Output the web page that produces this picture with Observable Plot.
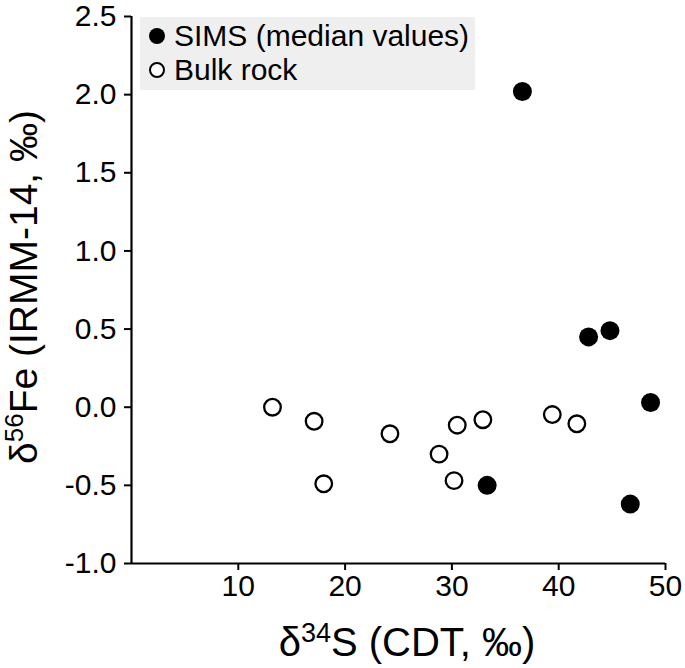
<!DOCTYPE html>
<html>
<head>
<meta charset="utf-8">
<script src="https://cdn.jsdelivr.net/npm/d3@7"></script>
<script src="https://cdn.jsdelivr.net/npm/@observablehq/plot@0.6"></script>
<style>
  body { margin: 0; background: white; }
  #wrap { position: relative; width: 685px; height: 668px; font-family: "Liberation Sans", Arial, Helvetica, sans-serif; }
  #legend { position: absolute; left: 140px; top: 17px; width: 335px; height: 73px; background: #efefef; }
  .row { position: absolute; left: 0; display: flex; align-items: center; font-size: 30px; color: #000; white-space: nowrap; }
  .row svg { margin-left: 8px; margin-right: 8px; }
</style>
</head>
<body>
<div id="wrap"></div>
<script>
// δ34S (CDT, ‰) and δ56Fe (IRMM-14, ‰)
const simsX = [36.6, 42.8, 44.8, 48.6, 33.3, 46.7];
const simsY = [2.02, 0.45, 0.49, 0.03, -0.50, -0.62];
const bulkX = [13.2, 17.1, 18.0, 24.2, 28.8, 30.5, 30.2, 32.9, 39.4, 41.7];
const bulkY = [0.00, -0.09, -0.49, -0.17, -0.30, -0.115, -0.47, -0.08, -0.047, -0.106];
const xTicks = [10, 20, 30, 40, 50];
const yTicks = [-1.0, -0.5, 0.0, 0.5, 1.0, 1.5, 2.0, 2.5];
const seriesNames = ["SIMS (median values)", "Bulk rock"];

const sims = simsX.map((x, i) => ({x, y: simsY[i]}));
const bulk = bulkX.map((x, i) => ({x, y: bulkY[i]}));

const plot = Plot.plot({
  width: 685,
  height: 668,
  marginLeft: 131,
  marginRight: 20,
  marginTop: 16,
  marginBottom: 105,
  style: {fontFamily: "'Liberation Sans', Arial, Helvetica, sans-serif", fontSize: "30px", color: "#000", background: "white", overflow: "visible"},
  x: {domain: [0, 50]},
  y: {domain: [-1, 2.5]},
  marks: [
    Plot.axisX({ticks: xTicks, tickSize: 7, tickPadding: 4, strokeWidth: 2, fontSize: 30, label: null, tickFormat: d => String(d)}),
    Plot.axisY({ticks: yTicks, tickSize: 7, tickPadding: 8, strokeWidth: 2, fontSize: 30, label: null, tickFormat: d => d.toFixed(1)}),
    Plot.ruleX([0], {stroke: "#000", strokeWidth: 2.2}),
    Plot.ruleY([-1], {stroke: "#000", strokeWidth: 2.2}),
    Plot.dot(bulk, {x: "x", y: "y", r: 8.3, fill: "white", stroke: "#000", strokeWidth: 2.3}),
    Plot.dot(sims, {x: "x", y: "y", r: 9.5, fill: "#000", stroke: "none"})
  ]
});

const wrap = document.getElementById("wrap");
wrap.appendChild(plot);

const svg = d3.select(plot);
// enforce tick label size
svg.selectAll('g[aria-label$="tick label"]').attr("font-size", 30).style("font-size", "30px");
svg.selectAll('g[aria-label$="tick label"] text').style("font-size", "30px");

// axis titles with superscripts
const xl = svg.append("text")
  .attr("x", 407).attr("y", 656)
  .attr("text-anchor", "middle")
  .style("font-size", "40px").attr("fill", "#000");
xl.append("tspan").text("δ");
xl.append("tspan").style("font-size", "27px").attr("dy", -14).text("34");
xl.append("tspan").attr("dy", 14).text("S (CDT, ‰)");

const yl = svg.append("text")
  .attr("transform", "translate(37,287) rotate(-90)")
  .attr("text-anchor", "middle")
  .style("font-size", "39px").attr("fill", "#000");
yl.append("tspan").text("δ");
yl.append("tspan").style("font-size", "26px").attr("dy", -14).text("56");
yl.append("tspan").attr("dy", 14).text("Fe (IRMM-14, ‰)");

// legend
const legend = document.createElement("div");
legend.id = "legend";
legend.innerHTML =
  `<div class="row" style="top:2px"><svg width="18" height="34"><circle cx="9" cy="17" r="8" fill="#000"/></svg><span>${seriesNames[0]}</span></div>` +
  `<div class="row" style="top:36px"><svg width="18" height="34"><circle cx="9" cy="17" r="7" fill="white" stroke="#000" stroke-width="2"/></svg><span>${seriesNames[1]}</span></div>`;
wrap.appendChild(legend);
</script>
</body>
</html>
